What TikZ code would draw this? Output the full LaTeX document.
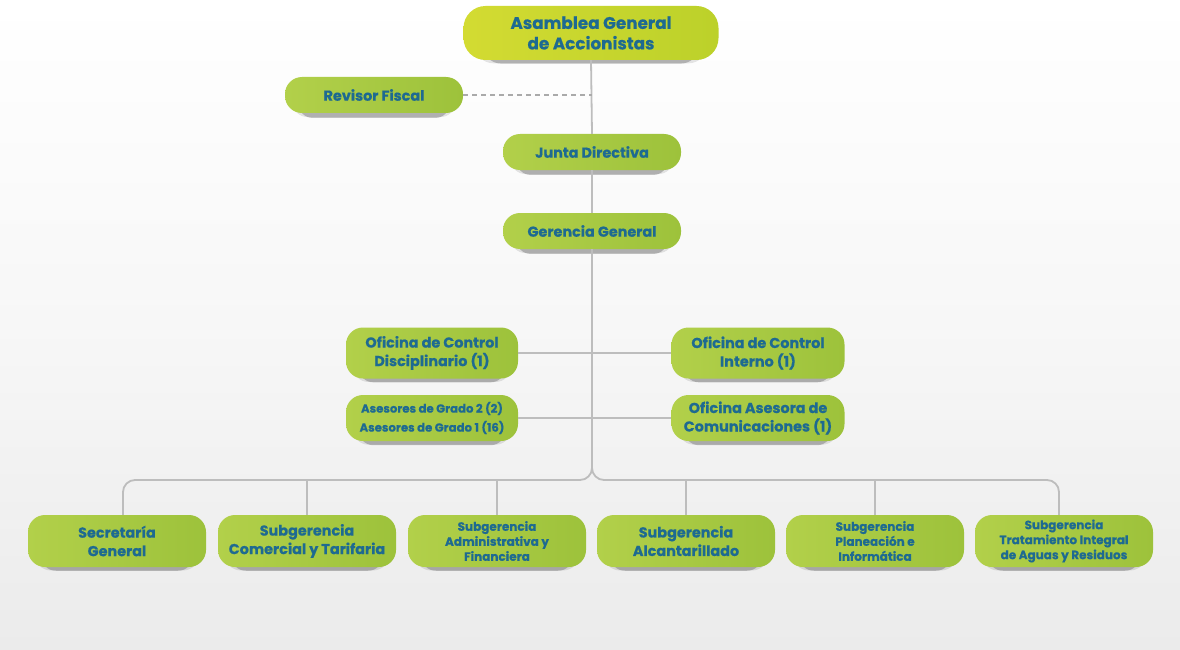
\documentclass[tikz,border=0pt]{standalone}
\usepackage{fontspec}
\setmainfont{Poppins}[BoldFeatures={FakeBold=0.5}]
\usetikzlibrary{shadows,calc}
\definecolor{txt}{HTML}{1E6A91}
\definecolor{gA}{HTML}{B2D04A}
\definecolor{gB}{HTML}{9DC23B}
\definecolor{yA}{HTML}{D3DB32}
\definecolor{yB}{HTML}{BCD12A}
\definecolor{lin}{HTML}{BDBDBD}
\definecolor{bgB}{HTML}{EBEBEB}
\newcommand\fsBig{\fontsize{16.8}{20.5}\selectfont\bfseries}
\newcommand\fsMid{\fontsize{14.4}{18.5}\selectfont\bfseries}
\newcommand\fsSml{\fontsize{12}{15}\selectfont\bfseries}
\newcommand\fsAse{\fontsize{11.7}{19}\selectfont\bfseries}
\tikzset{
  box/.style={rounded corners=17pt, minimum width=178pt, inner sep=0pt, align=center,
    text=txt, left color=gA, right color=gB,
    drop shadow={shadow xshift=0pt, shadow yshift=-6pt, shadow scale=0.92, opacity=0.10, fill=black},
    drop shadow={shadow xshift=0pt, shadow yshift=-9pt, shadow scale=0.85, opacity=0.22, fill=black}},
  topbox/.style={box, left color=yA, right color=yB, rounded corners=22pt},
  conn/.style={draw=lin, line width=1.8pt},
  dashconn/.style={draw=lin!90!black, line width=1.3pt, dash pattern=on 5pt off 4pt},
}
\begin{document}
\begin{tikzpicture}[x=1pt,y=-1pt]
\useasboundingbox (0,0) rectangle (1180,650);
\shade[top color=white, bottom color=bgB, middle color=white!60!bgB] (0,0) rectangle (1180,650);

% nodes
\node[topbox, minimum width=255pt, minimum height=54pt, font=\fsBig] (asam) at (591,33) {Asamblea General\\de Accionistas};
\node[box, minimum height=36pt, font=\fsMid] (rev) at (374,95) {Revisor Fiscal};
\node[box, minimum height=36pt, font=\fsMid] (junta) at (592,152) {Junta Directiva};
\node[box, minimum height=36pt, font=\fsMid] (ger) at (592,231) {Gerencia General};

\node[box, minimum width=172pt, minimum height=51pt, font=\fsMid] (disc) at (432,353) {Oficina de Control\\Disciplinario (1)};
\node[box, minimum width=172pt, minimum height=46pt, font=\fsAse] (ases) at (432,418) {Asesores de Grado 2 (2)\\Asesores de Grado 1 (16)};
\node[box, minimum width=173pt, minimum height=51pt, font=\fsMid] (inte) at (758,353) {Oficina de Control\\Interno (1)};
\node[box, minimum width=173pt, minimum height=46pt, font=\fsMid] (asesora) at (758,418) {Oficina Asesora de\\Comunicaciones (1)};

\node[box, minimum height=52pt, font=\fsMid] (sec) at (117,541) {Secretaría\\General};
\node[box, minimum height=52pt, font=\fsMid] (com) at (307,541) {Subgerencia\\Comercial y Tarifaria};
\node[box, minimum height=52pt, font=\fsSml] (adm) at (497,541) {Subgerencia\\Administrativa y\\Financiera};
\node[box, minimum height=52pt, font=\fsMid] (alc) at (686,541) {Subgerencia\\Alcantarillado};
\node[box, minimum height=52pt, font=\fsSml] (pla) at (875,541) {Subgerencia\\Planeación e\\Informática};
\node[box, minimum height=52pt, font=\fsSml] (tra) at (1064,541) {Subgerencia\\Tratamiento Integral\\de Aguas y Residuos};

% connectors
\coordinate (busM) at (592,480);
\coordinate (busL) at (123,480);
\coordinate (busR) at (1059,480);
\draw[conn] (asam.south) -- (junta.north);
\draw[conn] (junta.south) -- (ger.north);
\draw[conn] (disc.east) -- (inte.west);
\draw[conn] (ases.east) -- (asesora.west);
\draw[conn, rounded corners=12pt] (ger.south) -- (busM) -- (busL) -- ($(sec.north)+(6,0)$);
\draw[conn, rounded corners=12pt] (ger.south) -- (busM) -- (busR) -- ($(tra.north)+(-5,0)$);
\draw[conn] (com.north) -- (com.north |- busM);
\draw[conn] (adm.north) -- (adm.north |- busM);
\draw[conn] (alc.north) -- (alc.north |- busM);
\draw[conn] (pla.north) -- (pla.north |- busM);
\draw[dashconn] (rev.east) -- (rev.east -| junta.north);
\end{tikzpicture}
\end{document}
